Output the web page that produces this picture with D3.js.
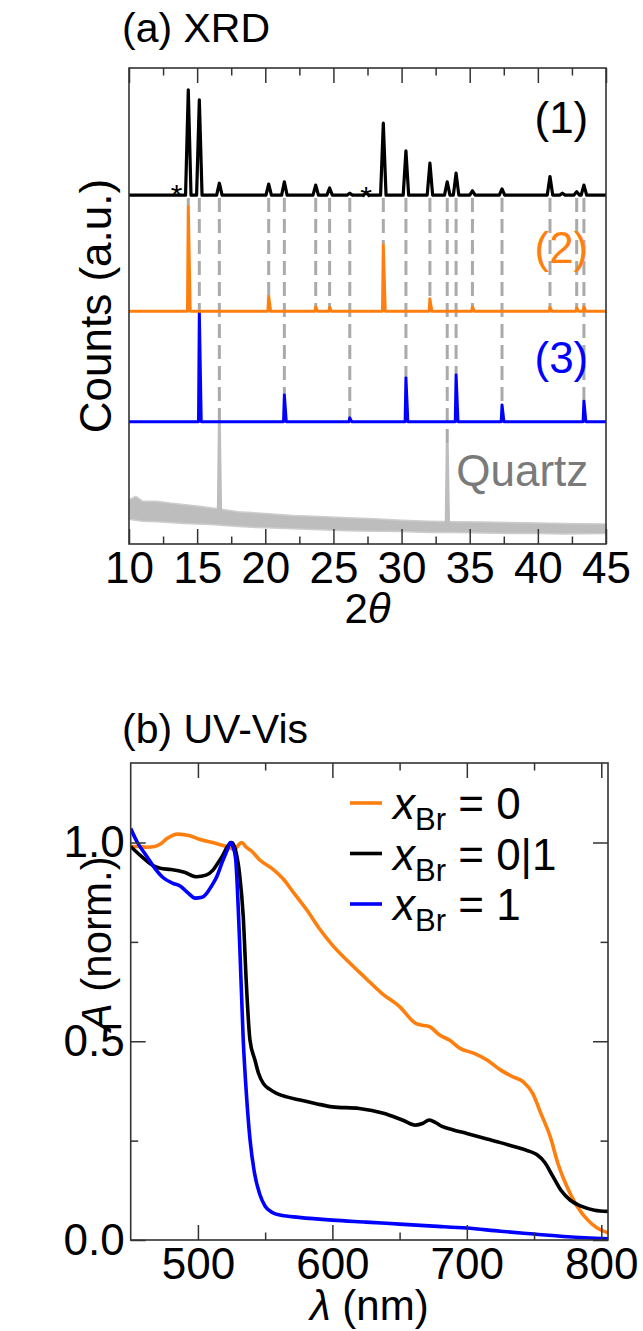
<!DOCTYPE html>
<html>
<head>
<meta charset="utf-8">
<script src="https://cdn.jsdelivr.net/npm/d3@7"></script>
<style>
body { margin: 0; background: #fff; }
svg { display: block; font-family: "Liberation Sans", Arial, Helvetica, sans-serif; }
</style>
</head>
<body>
<svg id="chart" width="643" height="1331"></svg>
<script>
// ---------- (a) XRD ----------
const xrdTicks = [10, 15, 20, 25, 30, 35, 40, 45];
const xrdMinor = [12.5, 17.5, 22.5, 27.5, 32.5, 37.5, 42.5];

// pattern (1), black: baseline and peaks [2theta, top] in a.u.
const base1 = 7.33;
const peaks1 = [[14.35, 9.54], [15.16, 9.33], [16.63, 7.58], [20.25, 7.56], [21.4, 7.61],
  [23.7, 7.54], [24.72, 7.48], [26.2, 7.37], [27.4, 7.38], [28.66, 8.84], [30.32, 8.26],
  [32.08, 8.0], [33.35, 7.61], [34.0, 7.79], [35.2, 7.42], [37.37, 7.46], [40.89, 7.72],
  [41.8, 7.37], [42.85, 7.4], [43.38, 7.54]];

// pattern (2), orange
const base2 = 4.89;
const peaks2 = [[14.35, 7.08], [20.25, 5.2], [23.7, 4.98], [24.72, 4.97], [28.66, 6.28],
  [32.08, 5.15], [35.2, 4.98], [40.89, 4.97], [42.85, 4.96], [43.38, 4.98]];

// pattern (3), blue
const base3 = 2.57;
const peaks3 = [[15.16, 4.88], [21.4, 3.13], [26.2, 2.65], [30.32, 3.49], [34.0, 3.55],
  [37.37, 2.92], [43.38, 3.0]];

// quartz substrate: noisy band (upper / lower edge) and two sharp lines
const quartzTheta = [10, 10.5, 11, 12, 13, 14, 15, 16, 17, 18, 19, 20, 22, 24, 26, 28, 30, 32, 34, 36, 38, 40, 42, 45];
const quartzUpper = [0.93, 1.0, 0.9, 0.9, 0.86, 0.83, 0.8, 0.76, 0.72, 0.68, 0.66, 0.64, 0.6, 0.58, 0.55, 0.53, 0.5, 0.48, 0.47, 0.46, 0.45, 0.44, 0.43, 0.42];
const quartzLower = [0.52, 0.5, 0.48, 0.47, 0.45, 0.43, 0.42, 0.41, 0.39, 0.37, 0.35, 0.34, 0.32, 0.3, 0.28, 0.27, 0.26, 0.24, 0.24, 0.23, 0.22, 0.22, 0.21, 0.22];
const quartzPeaks = [[16.63, 2.54], [33.35, 2.12]];

// grey guide lines from pattern (1) down to the matching peak [2theta, lower end]
const guides = [[14.35, 7.08], [15.16, 4.88], [16.63, 2.54], [20.25, 5.2], [21.4, 3.13],
  [23.7, 4.98], [24.72, 4.97], [26.2, 2.65], [28.66, 6.28], [30.32, 3.49], [32.08, 5.15],
  [33.35, 2.12], [34.0, 3.55], [35.2, 4.98], [37.37, 2.92], [40.89, 4.97], [42.85, 4.96],
  [43.38, 3.0]];
const stars = [[13.5, 7.12], [27.4, 7.08]];

// ---------- (b) UV-Vis ----------
const uvTicks = [500, 600, 700, 800];
const uvMinor = [550, 650, 750];
const absTicks = [0, 0.5, 1.0];
const absMinor = [0.25, 0.75];

const uvBr0 = [[450, 0.99], [455, 0.99], [462, 0.988], [468, 0.99], [472, 0.996], [477, 1.01],
  [485, 1.021], [494, 1.017], [501, 1.008], [511, 1.0], [520, 0.991], [527, 0.983], [532.5, 1.0],
  [536, 0.988], [540, 0.978], [546, 0.956], [555, 0.935], [563, 0.91], [572, 0.87], [581, 0.83],
  [590, 0.785], [600, 0.742], [612, 0.7], [625, 0.658], [637, 0.62], [650, 0.587], [662, 0.545],
  [667, 0.54], [672, 0.537], [680, 0.515], [687, 0.503], [695, 0.482], [705, 0.47], [715, 0.453],
  [725, 0.428], [734, 0.411], [742, 0.398], [749, 0.369], [755, 0.319], [762, 0.26], [768, 0.19],
  [775, 0.13], [782, 0.085], [790, 0.05], [797, 0.03], [805, 0.018]];

const uvBr01 = [[450, 0.99], [458, 0.965], [467, 0.941], [472, 0.935], [480, 0.932], [490, 0.925],
  [499, 0.914], [506, 0.918], [511, 0.93], [514, 0.944], [518, 0.965], [522, 0.99], [525, 1.0],
  [528, 0.98], [531, 0.92], [533.7, 0.814], [536, 0.646], [538.7, 0.503], [542.4, 0.453],
  [545, 0.42], [548.6, 0.394], [553, 0.38], [558.5, 0.369], [566, 0.36], [576, 0.352], [588, 0.343],
  [600, 0.335], [620, 0.331], [638, 0.319], [652, 0.302], [662, 0.289], [667, 0.293], [672, 0.302],
  [677, 0.295], [682, 0.285], [690, 0.277], [700, 0.268], [715, 0.254], [725, 0.245], [735, 0.235],
  [745, 0.225], [752, 0.215], [758, 0.195], [764, 0.16], [770, 0.125], [777, 0.1], [785, 0.085],
  [795, 0.075], [805, 0.072]];

const uvBr1 = [[450, 1.035], [455, 1.0], [462, 0.965], [468, 0.935], [474, 0.912], [481, 0.898],
  [487, 0.89], [493, 0.872], [498, 0.86], [503, 0.862], [506.5, 0.872], [510, 0.89], [514, 0.914],
  [518, 0.95], [522.3, 0.985], [524, 1.0], [526, 0.99], [528, 0.96], [531, 0.75], [533.7, 0.503],
  [536, 0.37], [538.7, 0.254], [542, 0.17], [546, 0.115], [550, 0.085], [555, 0.07], [562, 0.062],
  [575, 0.057], [600, 0.05], [625, 0.045], [650, 0.04], [675, 0.035], [700, 0.03], [725, 0.022],
  [750, 0.015], [775, 0.008], [805, 0.003]];

const legendNames = ["0", "0|1", "1"];
const orange = "#ff7f0e", blue = "#0000ff", grey = "#bdbdbd", frameCol = "#333";

const svg = d3.select("#chart");

// tick helper: major + minor ticks pointing into the frame on chosen sides
function frameTicks(g, x, y, w, h, xMaj, xMin, yMaj, yMin, xs, ys) {
  const sides = [
    [d3.axisBottom, xs, `translate(0,${y + h})`, xMaj, xMin],
    [d3.axisTop, xs, `translate(0,${y})`, xMaj, xMin]
  ];
  if (yMaj) {
    sides.push([d3.axisLeft, ys, `translate(${x},0)`, yMaj, yMin]);
    sides.push([d3.axisRight, ys, `translate(${x + w},0)`, yMaj, yMin]);
  }
  sides.forEach(([ax, sc, tr, maj, min]) => {
    [[maj, -15], [min, -7.5]].forEach(([vals, len]) => {
      const a = g.append("g").attr("transform", tr)
        .call(ax(sc).tickValues(vals).tickSize(len).tickFormat(""));
      a.select(".domain").remove();
      a.selectAll("line").attr("stroke", frameCol).attr("stroke-width", 1.5);
    });
  });
  g.append("rect").attr("x", x).attr("y", y).attr("width", w).attr("height", h)
    .attr("fill", "none").attr("stroke", frameCol).attr("stroke-width", 1.6);
}

// ---------- panel (a) ----------
const A = { left: 129, top: 68, width: 477, height: 476 };
const xA = d3.scaleLinear().domain([10, 45]).range([A.left, A.left + A.width]);
const yA = d3.scaleLinear().domain([0, 10]).range([A.top + A.height, A.top]);

const gA = svg.append("g");

// expand a peak list into a stick pattern on its baseline
function pattern(base, peaks, wl, wr) {
  const pts = [[10, base]];
  peaks.forEach(([c, top]) => { pts.push([c - wl, base], [c, top], [c + wr, base]); });
  pts.push([45, base]);
  return pts;
}
const lineA = d3.line().x(d => xA(d[0])).y(d => yA(d[1]));

// guide lines
gA.append("g").selectAll("line").data(guides).enter().append("line")
  .attr("x1", d => xA(d[0])).attr("x2", d => xA(d[0]))
  .attr("y1", yA(base1) + 3).attr("y2", d => yA(d[1]))
  .attr("stroke", "#aaa").attr("stroke-width", 3).attr("stroke-dasharray", "14,7");

// quartz
const quartzBand = quartzTheta.map((t, i) => [t, quartzLower[i], quartzUpper[i]]);
gA.append("path").datum(quartzBand)
  .attr("d", d3.area().x(d => xA(d[0])).y0(d => yA(d[1])).y1(d => yA(d[2])))
  .attr("fill", grey).attr("stroke", "#cdcdcd").attr("stroke-width", 1.5);
const quartzMid = d3.scaleLinear().domain(quartzTheta).range(quartzTheta.map((t, i) => (quartzLower[i] + quartzUpper[i]) / 2));
gA.selectAll(".qpk").data(quartzPeaks).enter().append("path").attr("class", "qpk")
  .attr("d", d => lineA([[d[0] - 0.08, quartzMid(d[0])], [d[0], d[1]], [d[0] + 0.1, quartzMid(d[0])]]))
  .attr("fill", "none").attr("stroke", grey).attr("stroke-width", 3);

[[base3, peaks3, blue, 0.06, 0.14, 3], [base2, peaks2, orange, 0.06, 0.14, 3], [base1, peaks1, "#000", 0.2, 0.2, 3.2]]
  .forEach(([b, p, c, wl, wr, sw]) => {
    gA.append("path").datum(pattern(b, p, wl, wr)).attr("d", lineA)
      .attr("fill", "none").attr("stroke", c).attr("stroke-width", sw).attr("stroke-linejoin", "round");
  });

gA.selectAll(".star").data(stars).enter().append("text")
  .attr("x", d => xA(d[0])).attr("y", d => yA(d[1]))
  .attr("text-anchor", "middle").attr("font-size", 30).text("*");

frameTicks(gA, A.left, A.top, A.width, A.height, xrdTicks, xrdMinor, null, null, xA, yA);

const axA = gA.append("g").attr("transform", `translate(0,${A.top + A.height})`)
  .call(d3.axisBottom(xA).tickValues(xrdTicks).tickSize(0).tickPadding(8));
axA.select(".domain").remove();
axA.selectAll("text").attr("font-size", 44).attr("font-family", null).attr("fill", "#000");

const labA = [["(1)", "#000", 8.63], ["(2)", orange, 5.9], ["(3)", blue, 3.6], ["Quartz", "#7a7a7a", 1.22]];
gA.selectAll(".lab").data(labA).enter().append("text")
  .attr("x", xA(43.7)).attr("y", d => yA(d[2]))
  .attr("text-anchor", "end").attr("font-size", 44).attr("fill", d => d[1]).text(d => d[0]);

svg.append("text").attr("x", 122).attr("y", 42).attr("font-size", 41).text("(a) XRD");
const t2 = svg.append("text").attr("x", xA(27.5)).attr("y", 623).attr("text-anchor", "middle").attr("font-size", 42);
t2.append("tspan").text("2");
t2.append("tspan").attr("font-style", "italic").text("θ");
svg.append("text").attr("transform", `translate(111,${(A.top + A.top + A.height) / 2}) rotate(-90)`)
  .attr("text-anchor", "middle").attr("font-size", 44).text("Counts (a.u.)");

// ---------- panel (b) ----------
const B = { left: 130.7, top: 763, width: 477.3, height: 477 };
const xB = d3.scaleLinear().domain([450, 805]).range([B.left, B.left + B.width]);
const yB = d3.scaleLinear().domain([0, 1.2]).range([B.top + B.height, B.top]);
const gB = svg.append("g");

const lineB = d3.line().curve(d3.curveMonotoneX).x(d => xB(d[0])).y(d => yB(d[1]));
const defs = svg.append("defs");
defs.append("clipPath").attr("id", "clipB").append("rect")
  .attr("x", B.left).attr("y", B.top).attr("width", B.width).attr("height", B.height);

const seriesB = [[uvBr0, orange], [uvBr01, "#000"], [uvBr1, blue]];
gB.append("g").attr("clip-path", "url(#clipB)").selectAll("path").data(seriesB).enter().append("path")
  .attr("d", d => lineB(d[0])).attr("fill", "none").attr("stroke", d => d[1])
  .attr("stroke-width", 3.6).attr("stroke-linejoin", "round");

frameTicks(gB, B.left, B.top, B.width, B.height, uvTicks, uvMinor, absTicks, absMinor, xB, yB);

const axBx = gB.append("g").attr("transform", `translate(0,${B.top + B.height})`)
  .call(d3.axisBottom(xB).tickValues(uvTicks).tickSize(0).tickPadding(8));
axBx.select(".domain").remove();
axBx.selectAll("text").attr("font-size", 44).attr("font-family", null).attr("fill", "#000");

const axBy = gB.append("g").attr("transform", `translate(${B.left},0)`)
  .call(d3.axisLeft(yB).tickValues(absTicks).tickSize(0).tickPadding(6).tickFormat(d3.format(".1f")));
axBy.select(".domain").remove();
axBy.selectAll("text").attr("font-size", 44).attr("font-family", null).attr("fill", "#000");

// legend
const leg = gB.selectAll(".leg").data(seriesB).enter().append("g").attr("class", "leg")
  .attr("transform", (d, i) => `translate(350,${819 + i * 50.5})`);
leg.append("line").attr("x1", 0).attr("x2", 32).attr("y1", -16).attr("y2", -16)
  .attr("stroke", d => d[1]).attr("stroke-width", 3.6);
const lt = leg.append("text").attr("x", 43).attr("font-size", 44);
lt.append("tspan").attr("font-style", "italic").text("x");
lt.append("tspan").attr("font-size", 31).attr("dy", 11).text("Br");
lt.append("tspan").attr("dy", -11).text((d, i) => " = " + legendNames[i]);

svg.append("text").attr("x", 122).attr("y", 743).attr("font-size", 41).text("(b) UV-Vis");
const tl = svg.append("text").attr("x", B.left + B.width / 2).attr("y", 1320).attr("text-anchor", "middle").attr("font-size", 42);
tl.append("tspan").attr("font-style", "italic").text("λ");
tl.append("tspan").text(" (nm)");
const ta = svg.append("text").attr("transform", `translate(111,${yB(0.745)}) rotate(-90)`)
  .attr("text-anchor", "middle").attr("font-size", 42);
ta.append("tspan").attr("font-style", "italic").text("A");
ta.append("tspan").text(" (norm.)");
</script>
</body>
</html>
